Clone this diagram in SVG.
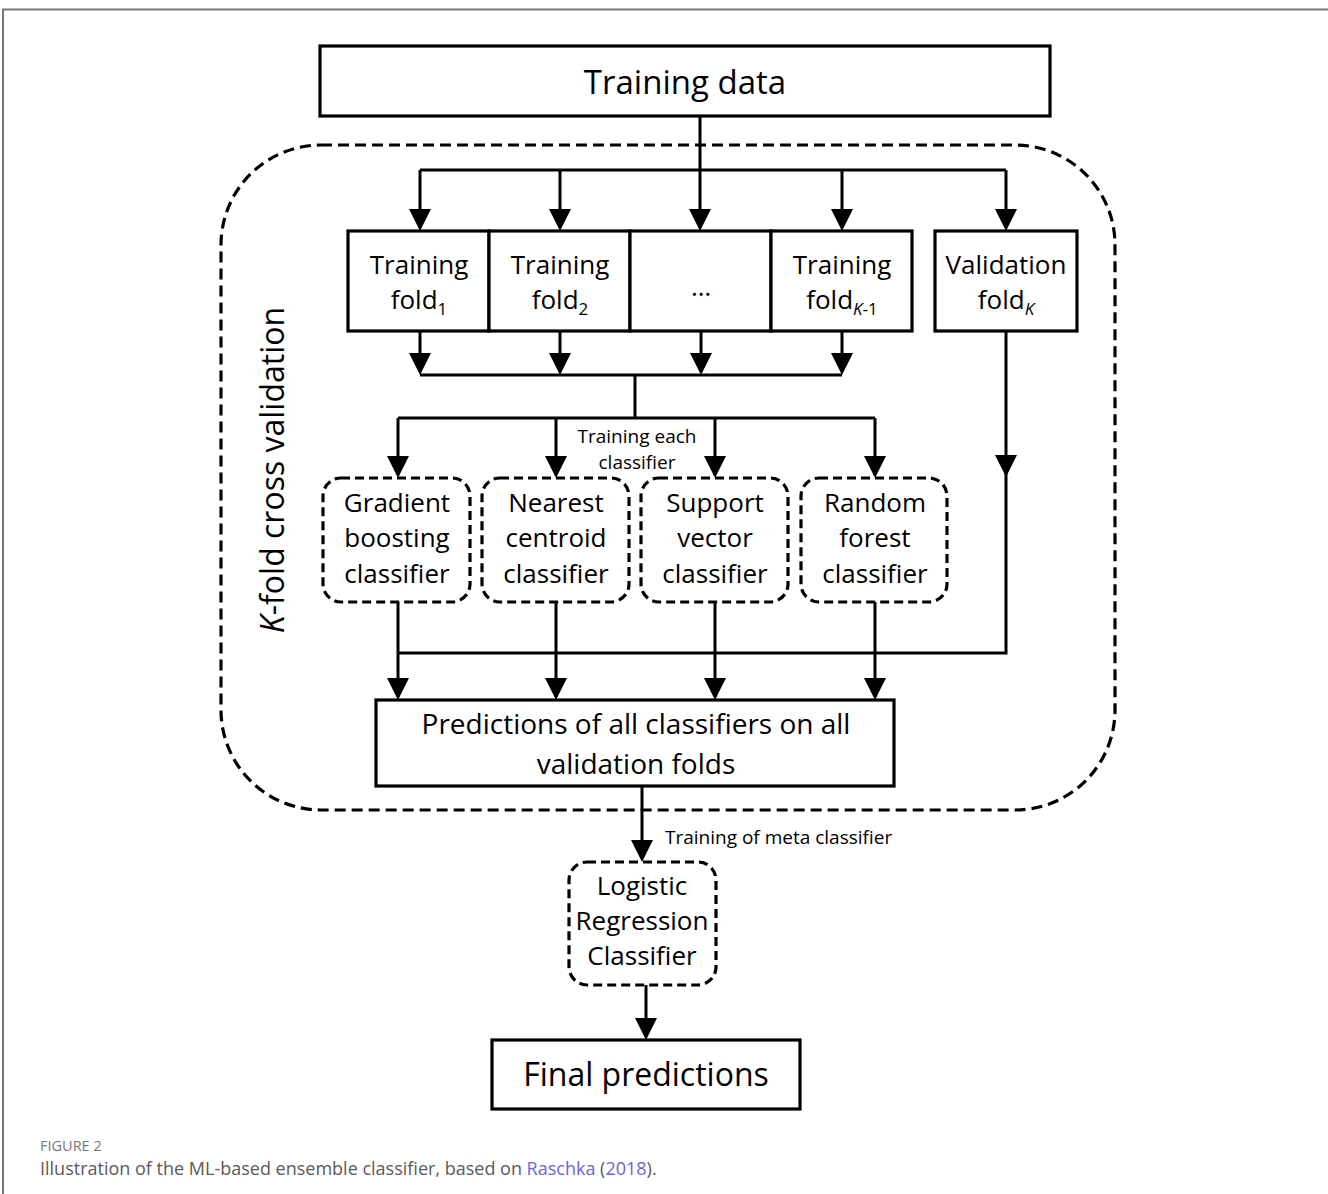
<svg xmlns="http://www.w3.org/2000/svg" width="1328" height="1194" viewBox="0 0 1328 1194">
<style>
.box{fill:#fff;stroke:#000;stroke-width:3.2}
.dbox{fill:#fff;stroke:#000;stroke-width:3.2;stroke-dasharray:9 5}
.ln{fill:none;stroke:#000;stroke-width:3}
.t{font-family:"Open Sans","Noto Sans",sans-serif;fill:#000;text-anchor:middle}
.cap{font-family:"Open Sans",Lato,sans-serif;fill:#5a5a5a}
</style>
<defs>
<marker id="ah" markerUnits="userSpaceOnUse" markerWidth="22" markerHeight="22" viewBox="0 0 22 22" refX="19" refY="11" orient="auto">
<path d="M0,0 L22,11 L0,22 Z" fill="#000"/>
</marker>
</defs>
<path d="M3,1194 V9.5 H1328" fill="none" stroke="#777" stroke-width="2"/>
<g id="cv-frame">
<rect x="221" y="145" width="894" height="665" rx="100" ry="100" fill="none" stroke="#000" stroke-width="3.2" stroke-dasharray="11 6"/>
<text class="t" font-size="32" transform="translate(284,470) rotate(-90)"><tspan font-style="italic">K</tspan>-fold cross validation</text>
</g>
<g id="connectors">
<path class="ln" d="M700,116 V228" marker-end="url(#ah)"/>
<path class="ln" d="M420,170 H1006"/>
<path class="ln" d="M420,170 V228" marker-end="url(#ah)"/>
<path class="ln" d="M560,170 V228" marker-end="url(#ah)"/>
<path class="ln" d="M842,170 V228" marker-end="url(#ah)"/>
<path class="ln" d="M1006,170 V228" marker-end="url(#ah)"/>
<path class="ln" d="M420,331 V372" marker-end="url(#ah)"/>
<path class="ln" d="M560,331 V372" marker-end="url(#ah)"/>
<path class="ln" d="M701,331 V372" marker-end="url(#ah)"/>
<path class="ln" d="M842,331 V372" marker-end="url(#ah)"/>
<path class="ln" d="M420,375 H842"/>
<path class="ln" d="M635,375 V418"/>
<path class="ln" d="M398,418 H875"/>
<path class="ln" d="M398,418 V475" marker-end="url(#ah)"/>
<path class="ln" d="M556,418 V475" marker-end="url(#ah)"/>
<path class="ln" d="M715,418 V475" marker-end="url(#ah)"/>
<path class="ln" d="M875,418 V475" marker-end="url(#ah)"/>
<path class="ln" d="M1006,331 V653 H398"/>
<polygon points="995,455 1017,455 1006,477" fill="#000"/>
<path class="ln" d="M398,602 V697" marker-end="url(#ah)"/>
<path class="ln" d="M556,602 V697" marker-end="url(#ah)"/>
<path class="ln" d="M715,602 V697" marker-end="url(#ah)"/>
<path class="ln" d="M875,602 V697" marker-end="url(#ah)"/>
<path class="ln" d="M642,786 V859" marker-end="url(#ah)"/>
<path class="ln" d="M646,985 V1037" marker-end="url(#ah)"/>
<text class="t" font-size="19"><tspan x="637" y="443">Training each</tspan><tspan x="637" y="469">classifier</tspan></text>
<text class="t" font-size="19" x="665" y="844" style="text-anchor:start">Training of meta classifier</text>
</g>
<g id="training-data">
<rect class="box" x="320" y="46" width="730" height="70"/>
<text class="t" font-size="33" x="685" y="94">Training data</text>
</g>
<g id="fold1">
<rect class="box" x="348" y="231" width="141" height="100"/>
<text class="t" font-size="26"><tspan x="419" y="274">Training</tspan><tspan x="419" y="309">fold<tspan font-size="17" dy="6">1</tspan></tspan></text>
</g>
<g id="fold2">
<rect class="box" x="489" y="231" width="141" height="100"/>
<text class="t" font-size="26"><tspan x="560" y="274">Training</tspan><tspan x="560" y="309">fold<tspan font-size="17" dy="6">2</tspan></tspan></text>
</g>
<g id="fold-dots">
<rect class="box" x="630" y="231" width="141" height="100"/>
<text class="t" font-size="26" x="701" y="296">…</text>
</g>
<g id="foldK-1">
<rect class="box" x="771" y="231" width="141" height="100"/>
<text class="t" font-size="26"><tspan x="842" y="274">Training</tspan><tspan x="842" y="309">fold<tspan font-size="17" dy="6" font-style="italic">K</tspan><tspan font-size="17">-1</tspan></tspan></text>
</g>
<g id="foldK">
<rect class="box" x="935" y="231" width="142" height="100"/>
<text class="t" font-size="26"><tspan x="1006" y="274">Validation</tspan><tspan x="1006" y="309">fold<tspan font-size="17" dy="6" font-style="italic">K</tspan></tspan></text>
</g>
<g id="gb">
<rect class="dbox" x="323" y="478" width="147" height="124" rx="18"/>
<text class="t" font-size="26"><tspan x="397" y="512">Gradient</tspan><tspan x="397" y="547">boosting</tspan><tspan x="397" y="583">classifier</tspan></text>
</g>
<g id="nc">
<rect class="dbox" x="482" y="478" width="147" height="124" rx="18"/>
<text class="t" font-size="26"><tspan x="556" y="512">Nearest</tspan><tspan x="556" y="547">centroid</tspan><tspan x="556" y="583">classifier</tspan></text>
</g>
<g id="sv">
<rect class="dbox" x="641" y="478" width="147" height="124" rx="18"/>
<text class="t" font-size="26"><tspan x="715" y="512">Support</tspan><tspan x="715" y="547">vector</tspan><tspan x="715" y="583">classifier</tspan></text>
</g>
<g id="rf">
<rect class="dbox" x="801" y="478" width="146" height="124" rx="18"/>
<text class="t" font-size="26"><tspan x="875" y="512">Random</tspan><tspan x="875" y="547">forest</tspan><tspan x="875" y="583">classifier</tspan></text>
</g>
<g id="predictions">
<rect class="box" x="376" y="700" width="518" height="86"/>
<text class="t" font-size="28"><tspan x="636" y="734">Predictions of all classifiers on all</tspan><tspan x="636" y="774">validation folds</tspan></text>
</g>
<g id="logistic">
<rect class="dbox" x="569" y="862" width="147" height="123" rx="18"/>
<text class="t" font-size="26"><tspan x="642" y="895">Logistic</tspan><tspan x="642" y="930">Regression</tspan><tspan x="642" y="965">Classifier</tspan></text>
</g>
<g id="final">
<rect class="box" x="492" y="1040" width="308" height="69"/>
<text class="t" font-size="32" x="646" y="1086">Final predictions</text>
</g>
<g id="caption">
<text class="cap" font-size="14.5" x="40" y="1151" style="fill:#777">FIGURE 2</text>
<text class="cap" font-size="18" x="40" y="1175">Illustration of the ML-based ensemble classifier, based on <tspan style="fill:#6b63d6">Raschka</tspan> (<tspan style="fill:#6b63d6">2018</tspan>).</text>
</g>
</svg>
